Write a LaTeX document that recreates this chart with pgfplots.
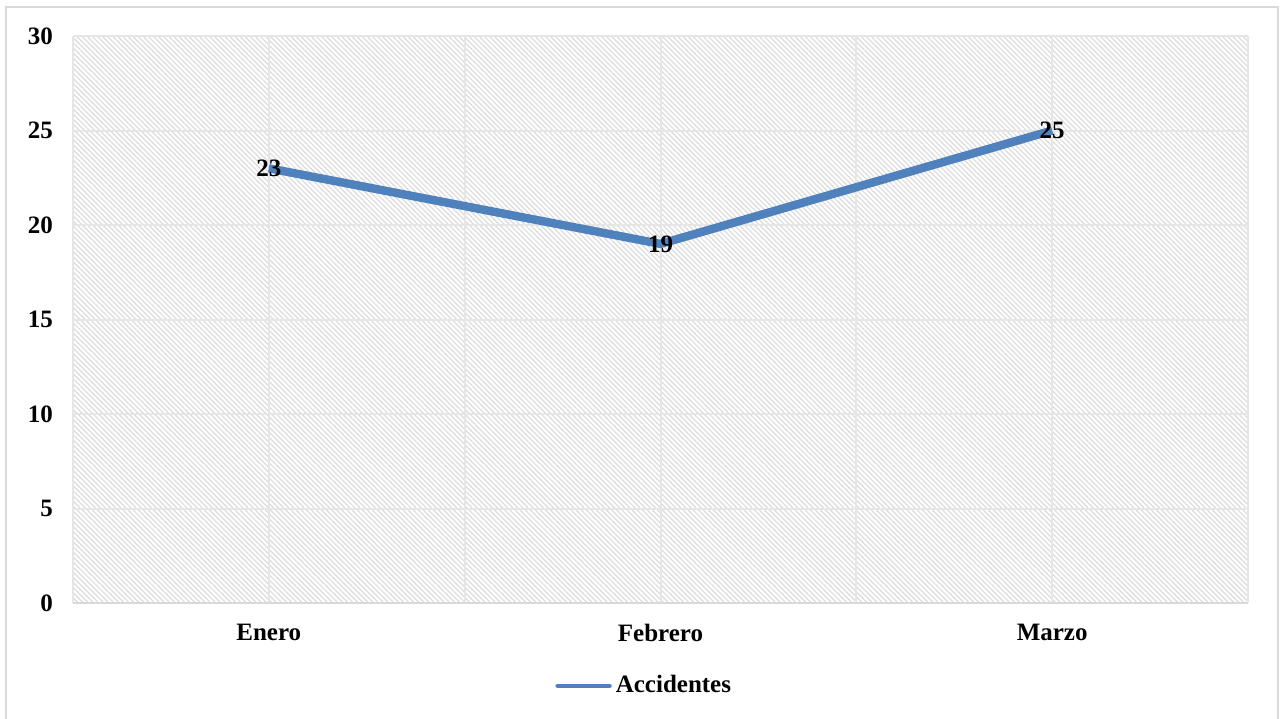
\documentclass[border=0pt]{standalone}
\usepackage{fontspec}
\setmainfont{Liberation Serif}
\usepackage{pgfplots}
\pgfplotsset{compat=1.18}
\usetikzlibrary{patterns.meta}
\definecolor{linecol}{HTML}{4F81BD}
\definecolor{gridcol}{HTML}{E6E6E6}
\definecolor{framecol}{HTML}{D9D9D9}
\begin{document}
\begin{tikzpicture}
\useasboundingbox (-36.5pt,-57.5pt) rectangle (605.5pt,301.5pt);
\draw[framecol, line width=0.9pt] (-33.5pt,-58pt) -- (-33.5pt,298pt) -- (602.5pt,298pt) -- (602.5pt,-58pt);
\begin{axis}[
  at={(0pt,0pt)}, anchor=south west,
  scale only axis, width=587.5pt, height=283.5pt,
  xmin=-0.5, xmax=2.5, ymin=0, ymax=30,
  xtick={0,1,2}, xticklabels={Enero,Febrero,Marzo},
  minor xtick={-0.5,0.5,1.5,2.5},
  ytick={0,5,...,30},
  xmajorgrids, xminorgrids, ymajorgrids,
  grid style={draw=gridcol, line width=1pt},
  minor grid style={draw=gridcol, line width=1pt},
  major tick length=0pt, minor tick length=0pt,
  axis x line*=bottom, axis y line*=left,
  x axis line style={-, draw=framecol, line width=1pt},
  y axis line style={draw=none},
  axis background/.style={pattern={Lines[angle=-45,distance=1.8pt,line width=0.6pt]}, pattern color=black!14},
  /pgf/number format/assume math mode=true,
  tick label style={font=\fontsize{12.5}{14}\selectfont\bfseries, text=black},
  yticklabel style={xshift=-6.5pt},
  xticklabel style={yshift=-7pt},
  legend style={at={(axis description cs:0.487,-0.146)}, anchor=center, draw=none, fill=none,
    font=\fontsize{12.5}{14}\selectfont\bfseries, inner sep=0pt},
  legend image code/.code={\draw[#1, line width=2.2pt, line cap=round] (0pt,0pt) -- (26pt,0pt);},
  clip=false,
]
\addplot[color=linecol, line width=4.2pt, mark=none,
  nodes near coords,
  every node near coord/.append style={anchor=center, font=\fontsize{12.5}{14}\selectfont\bfseries, text=black},
] coordinates {(0,23) (1,19) (2,25)};
\addlegendentry{Accidentes}
\end{axis}
\end{tikzpicture}
\end{document}
